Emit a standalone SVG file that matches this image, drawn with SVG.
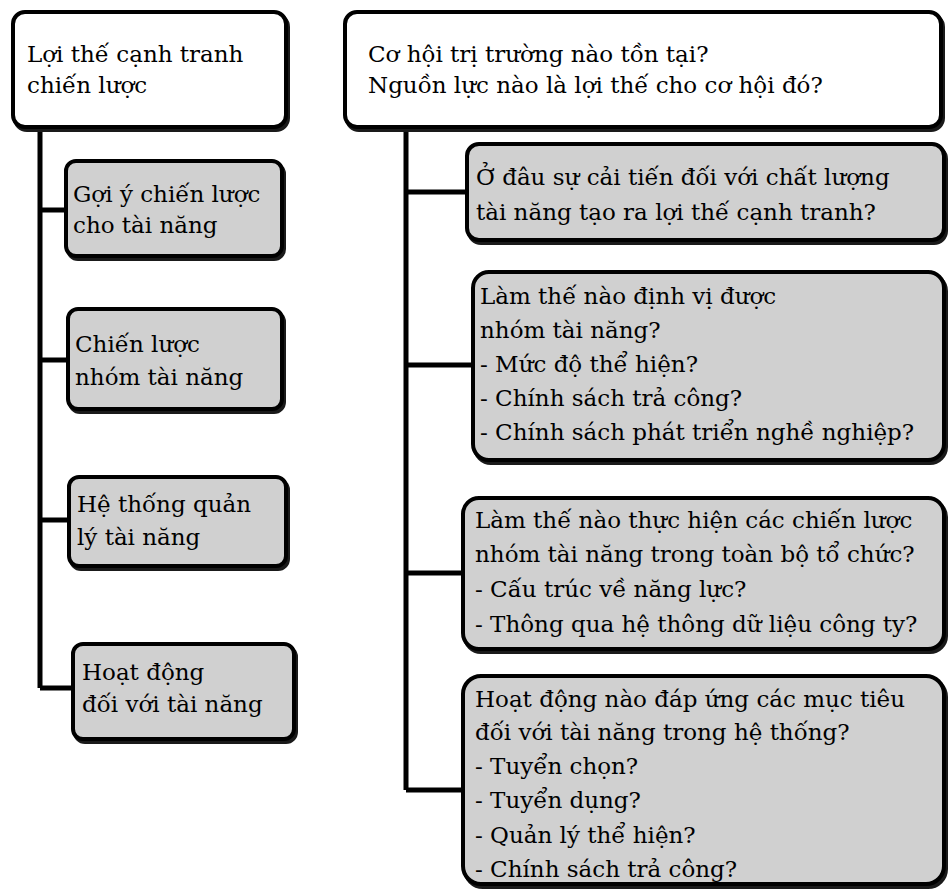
<svg xmlns="http://www.w3.org/2000/svg" width="950" height="890" viewBox="0 0 950 890">
<defs>
<style>
.sh{fill:#1a1a1a;stroke:#1a1a1a;stroke-width:4}
.top{fill:#ffffff;stroke:#000;stroke-width:4}
.sub{fill:#d0d0d0;stroke:#000;stroke-width:4}
.t{font-family:"DejaVu Serif","Liberation Serif",serif;font-size:23px;fill:#000}
.c{stroke:#000;stroke-width:5;fill:none}
</style>
</defs>
<rect width="950" height="890" fill="#fff"/>
<g id="connectors">
<path class="c" d="M40 128 V688 M40 210 H66 M40 360 H68 M40 520 H69 M40 688 H73"/>
<path class="c" d="M406 128 V790 M406 192 H467 M406 365 H473 M406 573 H463 M406 790 H463"/>
</g>
<g id="L0">
<rect class="sh" x="15" y="15" width="273" height="115" rx="12"/>
<rect class="top" x="13" y="12" width="273" height="115" rx="12"/>
<text class="t" x="27" y="62">Lợi thế cạnh tranh</text>
<text class="t" x="27" y="93">chiến lược</text>
</g>
<g id="L1">
<rect class="sh" x="68" y="164" width="216" height="95" rx="10"/>
<rect class="sub" x="66" y="161" width="216" height="95" rx="10"/>
<text class="t" x="73" y="202">Gợi ý chiến lược</text>
<text class="t" x="73" y="233">cho tài năng</text>
</g>
<g id="L2">
<rect class="sh" x="70" y="312" width="214" height="100" rx="10"/>
<rect class="sub" x="68" y="309" width="214" height="100" rx="10"/>
<text class="t" x="75" y="352">Chiến lược</text>
<text class="t" x="75" y="385">nhóm tài năng</text>
</g>
<g id="L3">
<rect class="sh" x="71" y="480" width="217" height="89" rx="10"/>
<rect class="sub" x="69" y="477" width="217" height="89" rx="10"/>
<text class="t" x="77" y="512">Hệ thống quản</text>
<text class="t" x="77" y="545">lý tài năng</text>
</g>
<g id="L4">
<rect class="sh" x="75" y="647" width="221" height="95" rx="10"/>
<rect class="sub" x="73" y="644" width="221" height="95" rx="10"/>
<text class="t" x="82" y="680">Hoạt động</text>
<text class="t" x="82" y="712">đối với tài năng</text>
</g>
<g id="R0">
<rect class="sh" x="347" y="15" width="596" height="115" rx="12"/>
<rect class="top" x="345" y="12" width="596" height="115" rx="12"/>
<text class="t" x="368" y="62">Cơ hội trị trường nào tồn tại?</text>
<text class="t" x="368" y="93">Nguồn lực nào là lợi thế cho cơ hội đó?</text>
</g>
<g id="R1">
<rect class="sh" x="469" y="147" width="477" height="96" rx="12"/>
<rect class="sub" x="467" y="144" width="477" height="96" rx="12"/>
<text class="t" x="476" y="185">Ở đâu sự cải tiến đối với chất lượng</text>
<text class="t" x="476" y="220">tài năng tạo ra lợi thế cạnh tranh?</text>
</g>
<g id="R2">
<rect class="sh" x="475" y="275" width="471" height="188" rx="16"/>
<rect class="sub" x="473" y="272" width="471" height="188" rx="16"/>
<text class="t" x="480" y="304">Làm thế nào định vị được</text>
<text class="t" x="480" y="338">nhóm tài năng?</text>
<text class="t" x="480" y="372">- Mức độ thể hiện?</text>
<text class="t" x="480" y="406">- Chính sách trả công?</text>
<text class="t" x="480" y="440">- Chính sách phát triển nghề nghiệp?</text>
</g>
<g id="R3">
<rect class="sh" x="465" y="501" width="481" height="151" rx="16"/>
<rect class="sub" x="463" y="498" width="481" height="151" rx="16"/>
<text class="t" x="475" y="528">Làm thế nào thực hiện các chiến lược</text>
<text class="t" x="475" y="562">nhóm tài năng trong toàn bộ tổ chức?</text>
<text class="t" x="475" y="597">- Cấu trúc về năng lực?</text>
<text class="t" x="475" y="632">- Thông qua hệ thông dữ liệu công ty?</text>
</g>
<g id="R4">
<rect class="sh" x="465" y="679" width="481" height="208" rx="18"/>
<rect class="sub" x="463" y="676" width="481" height="208" rx="18"/>
<text class="t" x="475" y="707">Hoạt động nào đáp ứng các mục tiêu</text>
<text class="t" x="475" y="740">đối với tài năng trong hệ thống?</text>
<text class="t" x="475" y="774">- Tuyển chọn?</text>
<text class="t" x="475" y="808">- Tuyển dụng?</text>
<text class="t" x="475" y="843">- Quản lý thể hiện?</text>
<text class="t" x="475" y="877">- Chính sách trả công?</text>
</g>
</svg>
